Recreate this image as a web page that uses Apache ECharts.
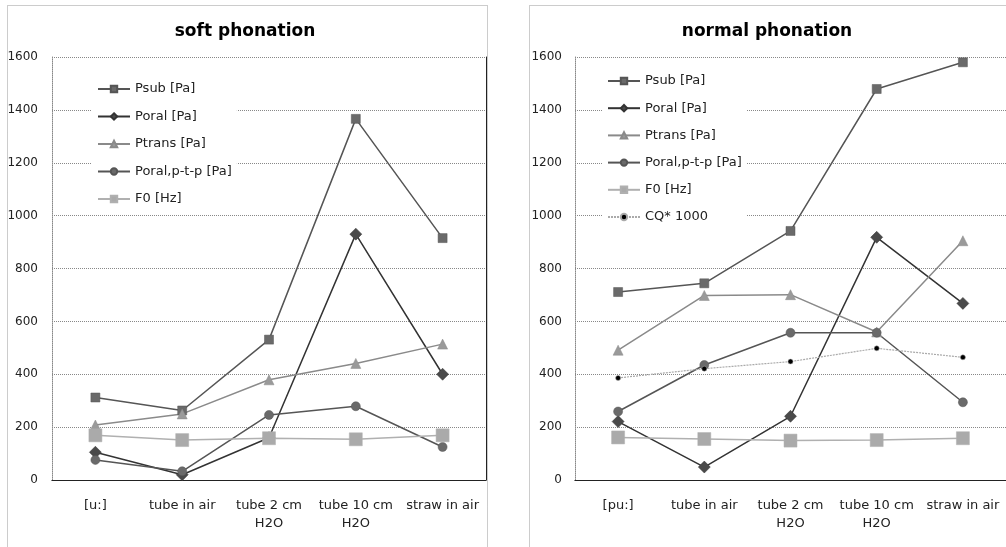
<!DOCTYPE html>
<html>
<head>
<meta charset="utf-8">
<script src="https://cdn.jsdelivr.net/npm/echarts@6/dist/echarts.min.js"></script>
<style>
html,body{margin:0;padding:0;background:#fff;}
#c{width:1006px;height:547px;}
</style>
</head>
<body>
<div id="c"></div>
<script>
// ---- data ----
const catsSoft = ['[u:]', 'tube in air', 'tube 2 cm\nH2O', 'tube 10 cm\nH2O', 'straw in air'];
const catsNormal = ['[pu:]', 'tube in air', 'tube 2 cm\nH2O', 'tube 10 cm\nH2O', 'straw in air'];
const yMin = 0, yMax = 1600, yStep = 200;

const psubSoft = [312, 263, 531, 1366, 915];
const poralSoft = [105, 20, 160, 930, 400];
const ptransSoft = [208, 250, 379, 441, 514];
const poralPtpSoft = [76, 33, 246, 279, 125];
const f0Soft = [169, 151, 158, 154, 169];

const psubNormal = [711, 744, 942, 1479, 1580];
const poralNormal = [221, 49, 241, 918, 668];
const ptransNormal = [491, 698, 701, 560, 905];
const poralPtpNormal = [259, 435, 557, 557, 294];
const f0Normal = [161, 155, 149, 151, 158];
const cqNormal = [386, 421, 448, 498, 464];

const titles = ['soft phonation', 'normal phonation'];
const namesSoft = ['Psub [Pa]', 'Poral [Pa]', 'Ptrans [Pa]', 'Poral,p-t-p [Pa]', 'F0 [Hz]'];
const namesNormal = ['Psub [Pa]', 'Poral [Pa]', 'Ptrans [Pa]', 'Poral,p-t-p [Pa]', 'F0 [Hz]', 'CQ* 1000'];

// ---- styles ----
const FONT = 'DejaVu Sans';
const styles = {
  'Psub [Pa]': {symbol: 'rect', size: 9, line: '#555', fill: '#6a6a6a', w: 1.5, type: 'solid'},
  'Poral [Pa]': {symbol: 'diamond', size: 12, line: '#333', fill: '#4a4a4a', w: 1.5, type: 'solid'},
  'Ptrans [Pa]': {symbol: 'triangle', size: 10, line: '#8a8a8a', fill: '#9a9a9a', w: 1.5, type: 'solid'},
  'Poral,p-t-p [Pa]': {symbol: 'circle', size: 9, line: '#555', fill: '#6a6a6a', w: 1.5, type: 'solid'},
  'F0 [Hz]': {symbol: 'rect', size: 13, line: '#b0b0b0', fill: '#aaaaaa', w: 1.5, type: 'solid'},
  'CQ* 1000': {symbol: 'circle', size: 5, line: '#aaa', fill: '#000', w: 1.2, type: [2, 1]}
};

function mkSeries(name, data, xi, yi) {
  const s = styles[name];
  return {
    type: 'line', name: name, data: data, xAxisIndex: xi, yAxisIndex: yi,
    symbol: s.symbol, symbolSize: s.size,
    lineStyle: {color: s.line, width: s.w, type: s.type},
    itemStyle: {color: s.fill, borderColor: s.line, borderWidth: 0.5},
    emphasis: {disabled: true}, z: 3
  };
}

const grids = [
  {left: 52, top: 57, width: 434, height: 423},
  {left: 575, top: 57, width: 432, height: 423}
];

function catAxis(cats, gi, bottom) {
  return {
    type: 'category', data: cats, gridIndex: gi, position: bottom ? 'bottom' : 'top',
    boundaryGap: true,
    axisLine: {show: true, lineStyle: bottom ? {color: '#888', type: [1, 1], width: 1} : {color: '#222', width: 1}},
    axisTick: {show: false},
    axisLabel: {show: bottom, color: '#222', fontFamily: FONT, fontSize: 13, margin: 17, lineHeight: 18, interval: 0},
    splitLine: {show: false}
  };
}
function valAxis(gi, left, margin) {
  return {
    type: 'value', gridIndex: gi, min: yMin, max: yMax, interval: yStep, position: left ? 'left' : 'right',
    axisLine: {show: true, lineStyle: left ? {color: '#888', type: [1, 1], width: 1} : {color: '#222', width: 1}},
    axisTick: {show: false},
    axisLabel: {show: left, color: '#222', fontFamily: FONT, fontSize: 12, margin: margin, formatter: v => String(v)},
    splitLine: {show: left, lineStyle: {color: '#888', type: [1, 1], width: 1}}
  };
}

const legendBase = {
  orient: 'vertical', backgroundColor: '#fff', padding: [5, 5, 5, 5],
  itemWidth: 32, itemHeight: 8, itemGap: 13.5,
  textStyle: {color: '#222', fontFamily: FONT, fontSize: 13, lineHeight: 14},
  selectedMode: false, z: 5
};

const series = [];
const softData = [psubSoft, poralSoft, ptransSoft, poralPtpSoft, f0Soft];
namesSoft.forEach((n, i) => series.push(mkSeries(n, softData[i], 0, 0)));
const normalData = [psubNormal, poralNormal, ptransNormal, poralPtpNormal, f0Normal, cqNormal];
namesNormal.forEach((n, i) => series.push(mkSeries(n, normalData[i], 2, 2)));

const option = {
  animation: false,
  backgroundColor: '#fff',
  grid: grids,
  xAxis: [catAxis(catsSoft, 0, true), catAxis(catsSoft, 0, false), catAxis(catsNormal, 1, true), catAxis(catsNormal, 1, false)],
  yAxis: [valAxis(0, true, 14), valAxis(0, false, 0), valAxis(1, true, 13), valAxis(1, false, 0)],
  legend: [
    Object.assign({}, legendBase, {data: namesSoft, left: 92, top: 77}),
    Object.assign({}, legendBase, {data: namesNormal, left: 602, top: 69, itemGap: 13.2})
  ],
  graphic: [
    {type: 'rect', shape: {x: 7.5, y: 5.5, width: 480, height: 600}, style: {fill: null, stroke: '#999', lineWidth: 1, lineDash: [1, 1]}, z: -1, silent: true},
    {type: 'rect', shape: {x: 529.5, y: 5.5, width: 520, height: 600}, style: {fill: null, stroke: '#999', lineWidth: 1, lineDash: [1, 1]}, z: -1, silent: true},
    {type: 'text', x: 245, y: 32, style: {text: titles[0], align: 'center', verticalAlign: 'middle', font: 'bold 17px "DejaVu Sans"', fill: '#000'}, z: 10},
    {type: 'text', x: 767, y: 32, style: {text: titles[1], align: 'center', verticalAlign: 'middle', font: 'bold 17px "DejaVu Sans"', fill: '#000'}, z: 10}
  ],
  series: series
};

const chart = echarts.init(document.getElementById('c'), null, {renderer: 'canvas'});
chart.setOption(option);
</script>
</body>
</html>
